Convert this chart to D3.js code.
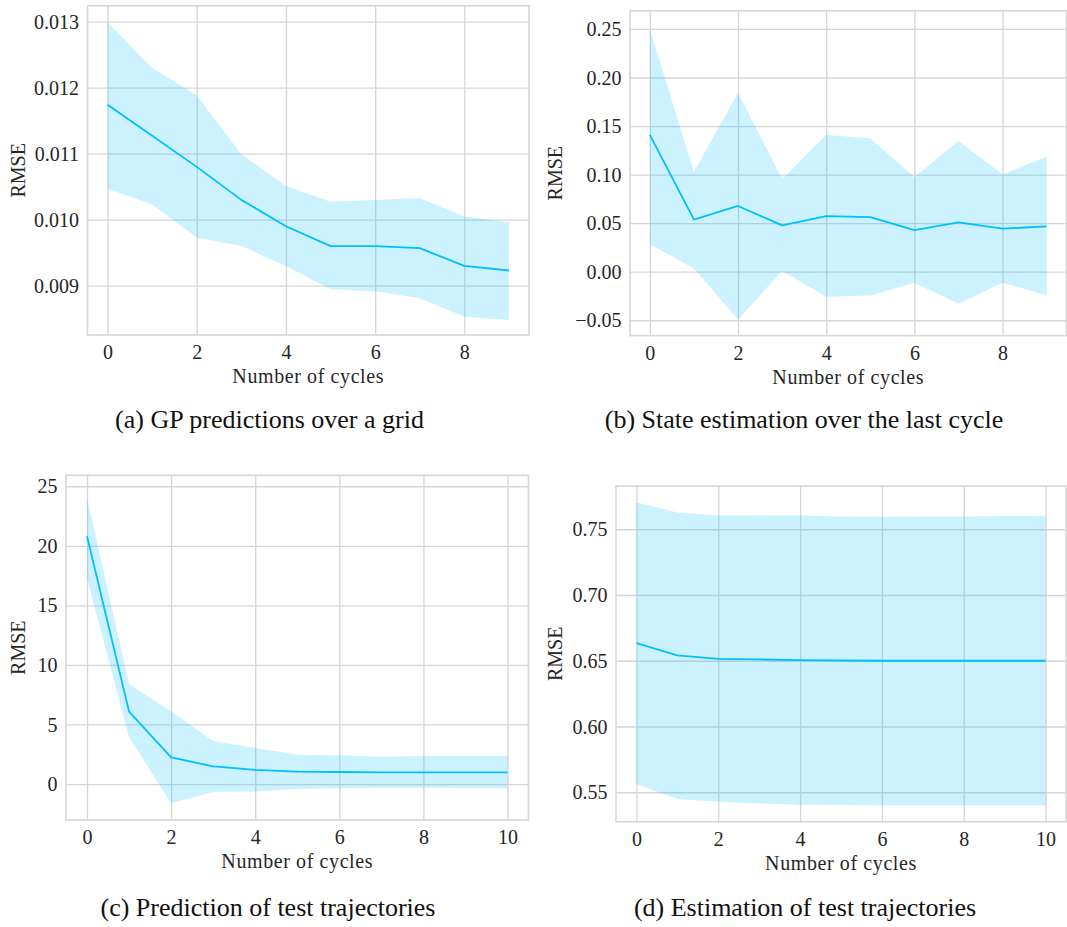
<!DOCTYPE html>
<html><head><meta charset="utf-8">
<script src="https://cdn.jsdelivr.net/npm/d3@7"></script>
<style>
body{margin:0;background:#fff}
svg text{font-family:"Liberation Serif","Times New Roman",serif !important;fill:#262626}
</style>
</head><body>
<svg id="chart" width="1067" height="927"></svg>
<script>
// ---------- data ----------
const cyclesAB = [0,1,2,3,4,5,6,7,8,9];
const cyclesCD = [0,1,2,3,4,5,6,7,8,9,10];

const meanA  = [0.01174, 0.01127, 0.01080, 0.01030, 0.00990, 0.00960, 0.00960, 0.00957, 0.00930, 0.00923];
const upperA = [0.01299, 0.01230, 0.01188, 0.01099, 0.01051, 0.01027, 0.01030, 0.01033, 0.01005, 0.00996];
const lowerA = [0.01047, 0.01023, 0.00973, 0.00960, 0.00930, 0.008945, 0.008915, 0.00881, 0.00853, 0.00848];

const meanB  = [0.141, 0.0536, 0.0677, 0.0477, 0.0573, 0.0563, 0.0429, 0.0508, 0.0443, 0.0467];
const upperB = [0.2497, 0.103, 0.1844, 0.0951, 0.1408, 0.1374, 0.0972, 0.1346, 0.1003, 0.1185];
const lowerB = [0.0282, 0.0034, -0.0491, 0.0007, -0.0258, -0.0244, -0.0113, -0.033, -0.0113, -0.0244];

const meanC  = [20.80, 6.08, 2.24, 1.48, 1.18, 1.04, 1.01, 0.98, 0.98, 0.98, 0.98];
const upperC = [24.0, 8.40, 6.08, 3.61, 3.02, 2.46, 2.41, 2.30, 2.35, 2.35, 2.35];
const lowerC = [17.27, 3.92, -1.62, -0.67, -0.62, -0.42, -0.36, -0.31, -0.31, -0.34, -0.36];

const meanD  = [0.6634, 0.6541, 0.6515, 0.6510, 0.6505, 0.6502, 0.6500, 0.6500, 0.6500, 0.6500, 0.6500];
const upperD = [0.7704, 0.7628, 0.7605, 0.7607, 0.7605, 0.7597, 0.7595, 0.7597, 0.7597, 0.7600, 0.7602];
const lowerD = [0.5562, 0.5448, 0.5428, 0.5415, 0.5405, 0.5403, 0.5400, 0.5400, 0.5400, 0.5400, 0.5400];

const xTicksAB = [0,2,4,6,8];
const xTicksCD = [0,2,4,6,8,10];
const yTicksA = [0.009,0.010,0.011,0.012,0.013];
const yTicksB = [-0.05,0.00,0.05,0.10,0.15,0.20,0.25];
const yTicksC = [0,5,10,15,20,25];
const yTicksD = [0.55,0.60,0.65,0.70,0.75];

const xLabel = "Number of cycles";
const yLabel = "RMSE";
const captions = [
  "(a) GP predictions over a grid",
  "(b) State estimation over the last cycle",
  "(c) Prediction of test trajectories",
  "(d) Estimation of test trajectories"
];

// ---------- drawing ----------
const svg = d3.select("#chart");
const LINE = "#00bfff";
const GRID = "#d6d6d6";
const FONT = "'Liberation Serif', 'Times New Roman', serif";

const panels = [
  {xs: cyclesAB, mean: meanA, hi: upperA, lo: lowerA, xt: xTicksAB, yt: yTicksA, fmt: d3.format(".3f"),
   xDom: [-0.45, 9.45], yDom: [0.008253, 0.013242], left: 87.5, right: 529, top: 5.7, bottom: 335,
   ylabX: 18.5, cap: captions[0], capX: 269.5, capY: 428},
  {xs: cyclesAB, mean: meanB, hi: upperB, lo: lowerB, xt: xTicksAB, yt: yTicksB, fmt: d3.format(".2f"),
   xDom: [-0.45, 9.45], yDom: [-0.0659, 0.2688], left: 630, right: 1066.5, top: 10.7, bottom: 335.7,
   ylabX: 555, cap: captions[1], capX: 804, capY: 428},
  {xs: cyclesCD, mean: meanC, hi: upperC, lo: lowerC, xt: xTicksCD, yt: yTicksC, fmt: d3.format("d"),
   xDom: [-0.5, 10.5], yDom: [-3.02, 25.92], left: 66, right: 528.5, top: 475.3, bottom: 820,
   ylabX: 18.6, cap: captions[2], capX: 268, capY: 916},
  {xs: cyclesCD, mean: meanD, hi: upperD, lo: lowerD, xt: xTicksCD, yt: yTicksD, fmt: d3.format(".2f"),
   xDom: [-0.5, 10.5], yDom: [0.5276, 0.7829], left: 616, right: 1066, top: 486, bottom: 821.7,
   ylabX: 555, cap: captions[3], capX: 805, capY: 916}
];

panels.forEach(p => {
  const g = svg.append("g");
  const x = d3.scaleLinear().domain(p.xDom).range([p.left, p.right]);
  const y = d3.scaleLinear().domain(p.yDom).range([p.bottom, p.top]);
  const w = p.right - p.left, h = p.bottom - p.top;

  // grid
  const gx = g.append("g").attr("transform", `translate(0,${p.bottom})`)
    .call(d3.axisBottom(x).tickValues(p.xt).tickSize(-h).tickFormat(""));
  const gy = g.append("g").attr("transform", `translate(${p.left},0)`)
    .call(d3.axisLeft(y).tickValues(p.yt).tickSize(-w).tickFormat(""));
  [gx, gy].forEach(a => {
    a.select(".domain").remove();
    a.selectAll("line").attr("stroke", GRID).attr("stroke-width", 1.3);
  });

  // band
  const area = d3.area()
    .x((d, i) => x(p.xs[i]))
    .y0((d, i) => y(p.lo[i]))
    .y1((d, i) => y(p.hi[i]));
  g.append("path").datum(p.mean).attr("d", area)
    .attr("fill", LINE).attr("fill-opacity", 0.2).attr("stroke", "none");

  // mean line
  const line = d3.line().x((d, i) => x(p.xs[i])).y(d => y(d));
  g.append("path").datum(p.mean).attr("d", line)
    .attr("fill", "none").attr("stroke", LINE).attr("stroke-width", 1.8)
    .attr("stroke-linejoin", "round");

  // frame
  g.append("rect").attr("x", x.range()[0]).attr("y", y.range()[1])
    .attr("width", w).attr("height", h)
    .attr("fill", "none").attr("stroke", GRID).attr("stroke-width", 1.6);

  // tick labels
  const ax = g.append("g").attr("transform", `translate(0,${p.bottom})`)
    .call(d3.axisBottom(x).tickValues(p.xt).tickSize(0).tickFormat(d3.format("d")));
  ax.attr("font-family", null).attr("font-size", null);
  ax.select(".domain").remove();
  ax.selectAll("text").attr("y", 17).attr("dy", "0.35em")
    .style("font-size", "20px").style("font-family", FONT).attr("fill", "#262626");

  const ay = g.append("g").attr("transform", `translate(${p.left},0)`)
    .call(d3.axisLeft(y).tickValues(p.yt).tickSize(0).tickFormat(p.fmt));
  ay.attr("font-family", null).attr("font-size", null);
  ay.select(".domain").remove();
  ay.selectAll("text").attr("x", -8.5).attr("dy", "0.33em")
    .style("font-size", "20px").style("font-family", FONT).attr("fill", "#262626");

  // axis labels
  g.append("text").attr("x", (p.left + p.right) / 2).attr("y", p.bottom + 48)
    .attr("text-anchor", "middle").style("font-size", "20px").style("letter-spacing", "0.6px")
    .style("font-family", FONT)
    .text(xLabel);
  g.append("text")
    .attr("transform", `translate(${p.ylabX},${(p.top + p.bottom) / 2}) rotate(-90)`)
    .attr("text-anchor", "middle").attr("dy", "0.33em").style("font-size", "20px")
    .style("font-family", FONT)
    .text(yLabel);

  // caption
  g.append("text").attr("x", p.capX).attr("y", p.capY)
    .attr("text-anchor", "middle").style("font-size", "26px")
    .style("font-family", FONT).style("fill", "#111")
    .text(p.cap);
});
</script>
</body></html>
